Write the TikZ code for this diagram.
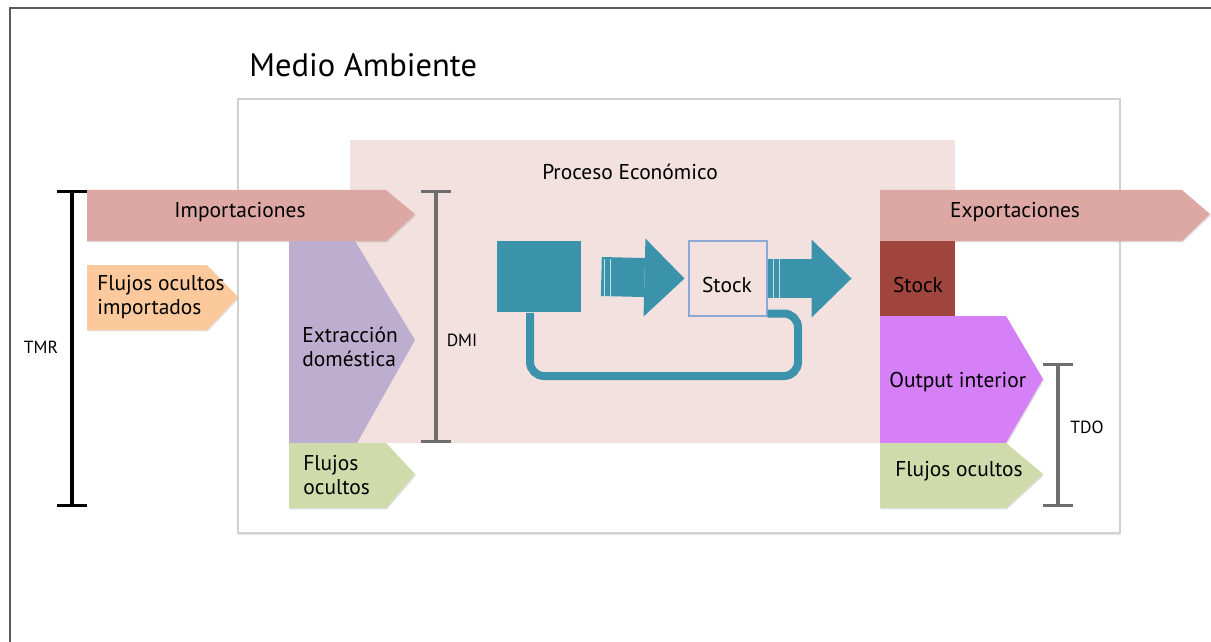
\documentclass[tikz,border=0pt]{standalone}
\usepackage{fontspec}
\setmainfont{PT Sans}
\usetikzlibrary{positioning, arrows.meta, shadows}

\definecolor{procbg}{HTML}{F2E1DF}
\definecolor{impcol}{HTML}{DDA8A3}
\definecolor{peach}{HTML}{FBC99B}
\definecolor{lila}{HTML}{BDAED0}
\definecolor{verde}{HTML}{CFDBAA}
\definecolor{stockred}{HTML}{A0453D}
\definecolor{magenta}{HTML}{D580F7}
\definecolor{tealflow}{HTML}{3A93AA}
\definecolor{stockedge}{HTML}{8CA9D6}
\definecolor{bargray}{HTML}{6E6E6E}

\begin{document}
\begin{tikzpicture}[x=0.02cm, y=-0.02cm,
    flow/.style={drop shadow={opacity=0.25, shadow xshift=0.5pt, shadow yshift=-0.8pt}},
    lbl/.style={font=\fontsize{12.2}{14}\selectfont, inner sep=0pt, align=left},
    small/.style={font=\fontsize{10}{12}\selectfont, inner sep=0pt},
    measure/.style={line width=1.8pt, {Bar[width=0.6cm]}-{Bar[width=0.6cm]}},
    fatarrow/.style={tealflow, line width=0.78cm, -{Triangle[length=0.8cm, width=1.56cm, line width=0pt]}},
    loopline/.style={tealflow, line width=0.16cm, rounded corners=0.28cm}]
        \useasboundingbox (0,0) rectangle (1211,642);

        % marco exterior
        \draw[black!65, line width=0.8pt] (10,642) -- (10,8) -- (1211,8);
        \node[anchor=west, font=\fontsize{18.5}{22}\selectfont, inner sep=0pt] (medio) at (249,65) {Medio Ambiente};
        \draw[black!18, line width=1pt, fill=white, drop shadow={opacity=0.2, shadow xshift=0pt, shadow yshift=-1.2pt}] (238,99) rectangle (1120,533);

        % proceso economico
        \fill[procbg] (350,140) rectangle (955,443);
        \node[lbl] (proceso) at (630,172) {Proceso Económico};

        % entradas
        \fill[impcol, flow] (87,190) -- (386,190) -- (415,214) -- (386,241) -- (87,241) -- cycle;
        \node[lbl] (import) at (240,212) {Importaciones};
        \fill[peach, flow] (87,265) -- (207,265) -- (238,297) -- (207,330) -- (87,330) -- cycle;
        \node[lbl, anchor=west] (ocultimp) at (97,297) {Flujos ocultos\\importados};
        \fill[lila] (289,241) -- (355,241) -- (415,340) -- (357,443) -- (289,443) -- cycle;
        \node[lbl, anchor=west] (extrac) at (302,347) {Extracción\\doméstica};
        \fill[verde, flow] (289,443) -- (386,443) -- (415,474) -- (386,508) -- (289,508) -- cycle;
        \node[lbl, anchor=west] (ocultin) at (303,475) {Flujos\\ocultos};

        % salidas
        \fill[impcol, flow] (880,190) -- (1182,190) -- (1210,214) -- (1182,241) -- (880,241) -- cycle;
        \node[lbl] (export) at (1015,212) {Exportaciones};
        \fill[stockred] (880,241) rectangle (955,316);
        \node[lbl] (stockout) at (918,285) {Stock};
        \fill[magenta, flow] (880,316) -- (1006,316) -- (1043,379) -- (1006,443) -- (880,443) -- cycle;
        \node[lbl, anchor=west] (output) at (889,382) {Output interior};
        \fill[verde, flow] (880,443) -- (1006,443) -- (1043,474) -- (1006,508) -- (880,508) -- cycle;
        \node[lbl, anchor=west] (ocultout) at (895,471) {Flujos ocultos};

        % ciclo interno
        \node[fill=tealflow, minimum width=1.68cm, minimum height=1.44cm, inner sep=0pt] (fuente) at (539,276.5) {};
        \node[draw=stockedge, fill=procbg, line width=0.6pt, minimum width=1.56cm, minimum height=1.5cm, inner sep=0pt] (stockbox) at (728,278.5) {};
        \node[lbl] (stockin) at (727,285) {Stock};
        \draw[fatarrow] ([xshift=0.4cm]fuente.east) -- ([xshift=-0.08cm]stockbox.west);
        \draw[fatarrow] (stockbox.east) -- ++(84,0) coordinate (salida);
        \draw[white!70!tealflow, line width=0.5pt] (604,259) -- (604,298) (610,259) -- (610,298);
        \draw[white!70!tealflow, line width=0.5pt] (773,259) -- (773,298) (779,259) -- (779,298);
        \draw[loopline] ([xshift=-0.18cm]fuente.south) |- (798,376) |- ([yshift=0.06cm]stockbox.south east);

        % indicadores
        \coordinate (tmrtop) at (72,190);
        \coordinate (tmrbot) at (72,507);
        \draw[measure, black] (tmrtop) -- (tmrbot);
        \node[small] (tmr) at (41,347) {TMR};
        \coordinate (dmitop) at (436,190);
        \coordinate (dmibot) at (436,443);
        \draw[measure, bargray] (dmitop) -- (dmibot);
        \node[small] (dmi) at (462,340) {DMI};
        \coordinate (tdotop) at (1058,363);
        \coordinate (tdobot) at (1058,507);
        \draw[measure, bargray] (tdotop) -- (tdobot);
        \node[small] (tdo) at (1087,427) {TDO};
\end{tikzpicture}
\end{document}
